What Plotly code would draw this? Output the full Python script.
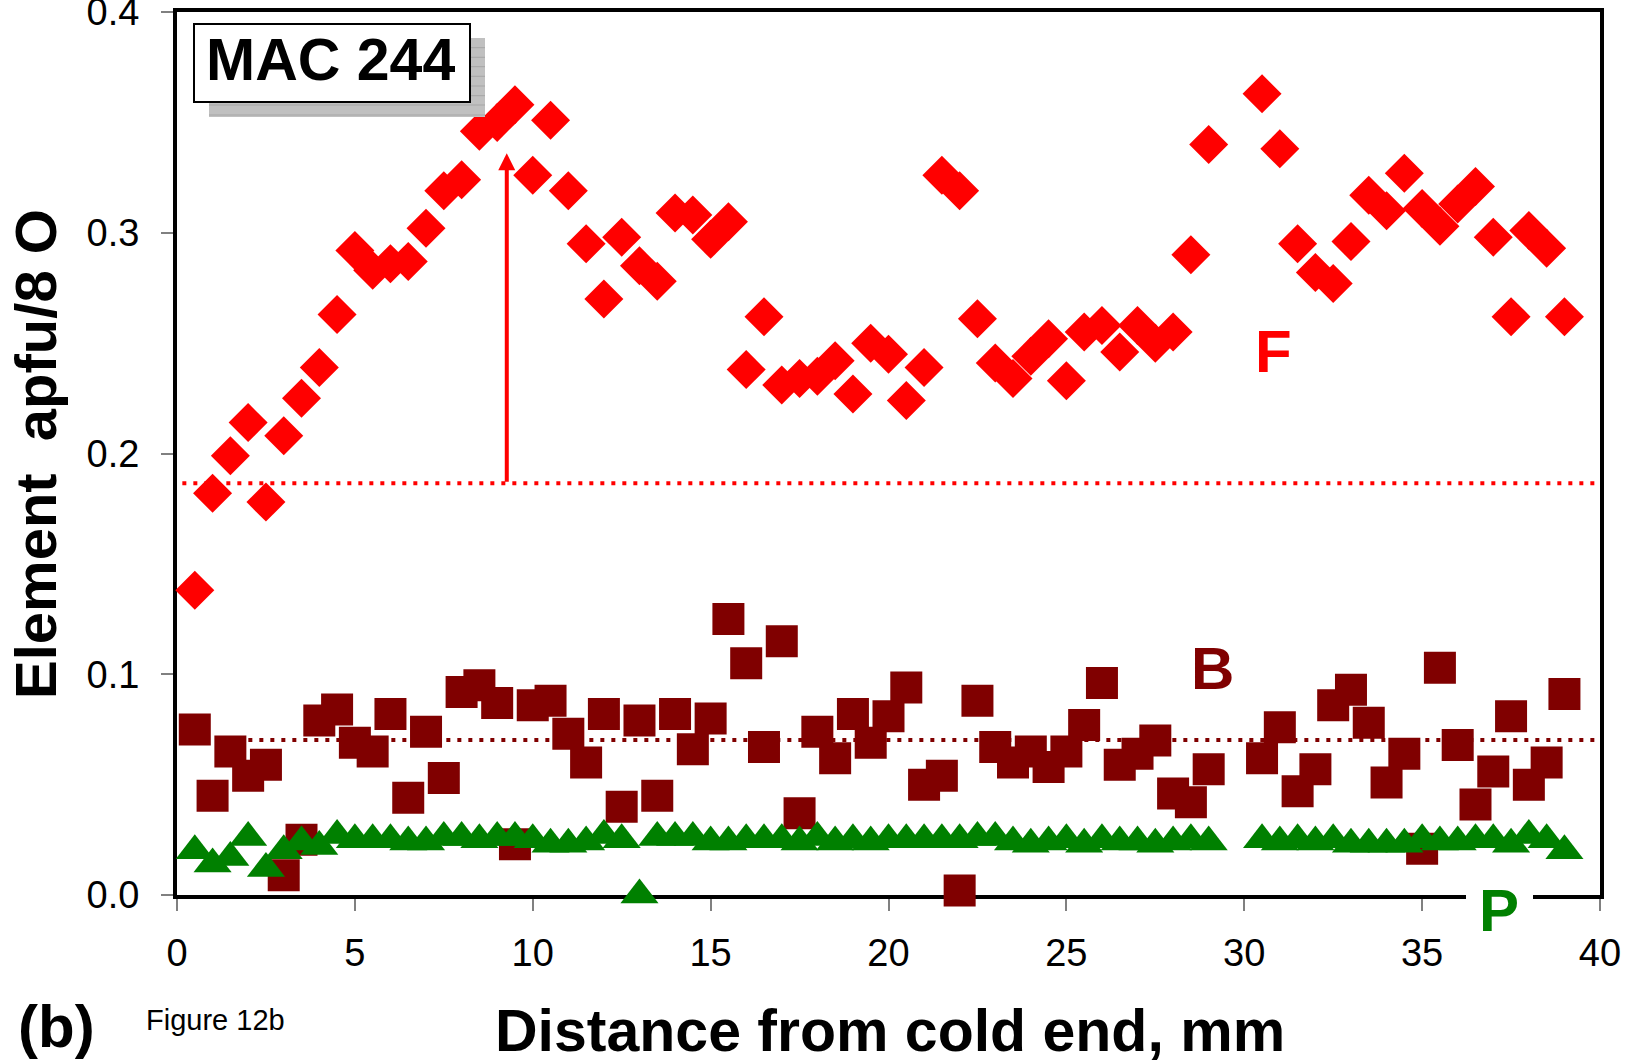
import plotly.graph_objects as go

# Distance along the charge (mm); no analyses at 29.5 and 30.0 mm
distance_mm = [
    0.5, 1.0, 1.5, 2.0, 2.5, 3.0, 3.5, 4.0, 4.5, 5.0,
    5.5, 6.0, 6.5, 7.0, 7.5, 8.0, 8.5, 9.0, 9.5, 10.0,
    10.5, 11.0, 11.5, 12.0, 12.5, 13.0, 13.5, 14.0, 14.5, 15.0,
    15.5, 16.0, 16.5, 17.0, 17.5, 18.0, 18.5, 19.0, 19.5, 20.0,
    20.5, 21.0, 21.5, 22.0, 22.5, 23.0, 23.5, 24.0, 24.5, 25.0,
    25.5, 26.0, 26.5, 27.0, 27.5, 28.0, 28.5, 29.0,
    30.5, 31.0, 31.5, 32.0, 32.5, 33.0, 33.5, 34.0, 34.5, 35.0,
    35.5, 36.0, 36.5, 37.0, 37.5, 38.0, 38.5, 39.0,
]

# Fluorine, apfu per 8 O
f_apfu = [
    0.138, 0.182, 0.199, 0.214, 0.178, 0.208, 0.225, 0.239, 0.263, 0.292,
    0.283, 0.286, 0.287, 0.302, 0.319, 0.324, 0.346, 0.350, 0.358, 0.326,
    0.351, 0.319, 0.295, 0.270, 0.298, 0.285, 0.278, 0.309, 0.308, 0.297,
    0.305, 0.238, 0.262, 0.231, 0.234, 0.235, 0.242, 0.227, 0.250, 0.245,
    0.224, 0.239, 0.326, 0.319, 0.261, 0.241, 0.234, 0.244, 0.252, 0.233,
    0.255, 0.258, 0.246, 0.258, 0.250, 0.255, 0.290, 0.340,
    0.363, 0.338, 0.295, 0.282, 0.277, 0.296, 0.317, 0.310, 0.327, 0.311,
    0.303, 0.313, 0.321, 0.298, 0.262, 0.301, 0.293, 0.262,
]

# Boron, apfu per 8 O
b_apfu = [
    0.075, 0.045, 0.065, 0.054, 0.059, 0.009, 0.025, 0.079, 0.084, 0.069,
    0.065, 0.082, 0.044, 0.074, 0.053, 0.092, 0.095, 0.087, 0.023, 0.086,
    0.088, 0.073, 0.060, 0.082, 0.040, 0.079, 0.045, 0.082, 0.066, 0.080,
    0.125, 0.105, 0.067, 0.115, 0.037, 0.074, 0.062, 0.082, 0.069, 0.081,
    0.094, 0.050, 0.054, 0.002, 0.088, 0.067, 0.060, 0.065, 0.058, 0.065,
    0.077, 0.096, 0.059, 0.064, 0.070, 0.046, 0.042, 0.057,
    0.062, 0.076, 0.047, 0.057, 0.086, 0.093, 0.078, 0.051, 0.064, 0.021,
    0.103, 0.068, 0.041, 0.056, 0.081, 0.050, 0.060, 0.091,
]

# Phosphorus, apfu per 8 O
p_apfu = [
    0.020, 0.014, 0.017, 0.026, 0.012, 0.020, 0.024, 0.022, 0.027, 0.025,
    0.025, 0.025, 0.024, 0.024, 0.026, 0.026, 0.025, 0.026, 0.026, 0.025,
    0.023, 0.023, 0.024, 0.027, 0.025, 0.000, 0.026, 0.026, 0.026, 0.024,
    0.024, 0.025, 0.025, 0.025, 0.024, 0.026, 0.024, 0.025, 0.024, 0.025,
    0.025, 0.025, 0.025, 0.025, 0.026, 0.026, 0.024, 0.023, 0.024, 0.025,
    0.023, 0.025, 0.024, 0.024, 0.023, 0.024, 0.025, 0.024,
    0.025, 0.024, 0.025, 0.024, 0.025, 0.023, 0.023, 0.023, 0.023, 0.025,
    0.024, 0.024, 0.025, 0.025, 0.023, 0.027, 0.025, 0.020,
]

# Starting-glass levels (dotted reference lines) and the enrichment arrow
f_initial = 0.1865
b_initial = 0.0702
arrow_x = 9.27
arrow_top = 0.336

x_range = [0, 40]
y_range = [0, 0.4]
x_ticks = [0, 5, 10, 15, 20, 25, 30, 35, 40]
y_ticks = [0.0, 0.1, 0.2, 0.3, 0.4]

RED = "#ff0000"
MAROON = "#800000"
GREEN = "#008000"
FONT = "Liberation Sans, Arial, sans-serif"

W, H = 1625, 1063
ML, MR, MT, MB = 177, 25, 12, 168
PW, PH = W - ML - MR, H - MT - MB


def px(xpix):
    """Page x pixel -> paper coordinate."""
    return (xpix - ML) / PW


def py(ypix):
    """Page y pixel -> paper coordinate."""
    return (H - MB - ypix) / PH


fig = go.Figure()

# dotted initial-composition lines
fig.add_trace(go.Scatter(
    x=[0.15, x_range[1]], y=[f_initial, f_initial], mode="lines",
    line=dict(color=RED, width=4, dash="4px,7px"), hoverinfo="skip",
    showlegend=False,
))
fig.add_trace(go.Scatter(
    x=[0.15, x_range[1]], y=[b_initial, b_initial], mode="lines",
    line=dict(color=MAROON, width=4, dash="4px,7px"), hoverinfo="skip",
    showlegend=False,
))

fig.add_trace(go.Scatter(
    x=distance_mm, y=f_apfu, mode="markers", name="F",
    marker=dict(symbol="diamond", size=30, color=RED, line=dict(width=0)),
    cliponaxis=False, showlegend=False,
))
fig.add_trace(go.Scatter(
    x=distance_mm, y=b_apfu, mode="markers", name="B",
    marker=dict(symbol="square", size=32, color=MAROON, line=dict(width=0)),
    cliponaxis=False, showlegend=False,
))
fig.add_trace(go.Scatter(
    x=distance_mm, y=p_apfu, mode="markers", name="P",
    marker=dict(symbol="triangle-up", size=33, color=GREEN, line=dict(width=0)),
    cliponaxis=False, showlegend=False,
))

axis_common = dict(
    showline=True, linewidth=4, linecolor="black", mirror=True,
    ticks="outside", ticklen=12, tickwidth=1.5, tickcolor="#808080",
    showgrid=False, zeroline=False, layer="below traces",
    ticklabeloverflow="allow", automargin=False,
    tickfont=dict(family=FONT, size=38, color="black"),
)

fig.update_xaxes(range=x_range, tickvals=x_ticks, ticklabelstandoff=9,
                 **axis_common)
fig.update_yaxes(range=y_range, tickvals=y_ticks, tickformat=".1f",
                 ticklabelstandoff=14, **axis_common)

# panel tag box with hatched grey drop shadow
hatch = " ".join(
    f"M{px(209)},{py(y)} L{px(485)},{py(y)}"
    for y in [47.7, 57.3, 66.7, 76.3, 86, 95.7, 105, 115]
)
shapes = [
    dict(type="rect", xref="paper", yref="paper",
         x0=px(209), x1=px(485), y0=py(117), y1=py(38),
         fillcolor="#c0c0c0", line=dict(width=0), layer="above"),
    dict(type="path", xref="paper", yref="paper", path=hatch,
         line=dict(color="#a6a6a6", width=1), layer="above"),
    dict(type="rect", xref="paper", yref="paper",
         x0=px(194), x1=px(470), y0=py(102), y1=py(24),
         fillcolor="white", line=dict(color="black", width=2), layer="above"),
    # white backing behind the P label, breaking the x-axis line
    dict(type="rect", xref="paper", yref="paper",
         x0=px(1466), x1=px(1533), y0=py(901), y1=py(888),
         fillcolor="white", line=dict(width=0), layer="above"),
]

annotations = [
    dict(text="<b>MAC 244</b>", x=px(330), y=py(60), xref="paper", yref="paper",
         showarrow=False, xanchor="center", yanchor="middle",
         font=dict(family=FONT, size=59, color="black")),
    dict(text="<b>F</b>", x=px(1273), y=py(351), xref="paper", yref="paper",
         showarrow=False, xanchor="center", yanchor="middle",
         font=dict(family=FONT, size=60, color=RED)),
    dict(text="<b>B</b>", x=px(1212), y=py(668), xref="paper", yref="paper",
         showarrow=False, xanchor="center", yanchor="middle",
         font=dict(family=FONT, size=60, color=MAROON)),
    dict(text="<b>P</b>", x=px(1499), y=py(910), xref="paper", yref="paper",
         showarrow=False, xanchor="center", yanchor="middle",
         font=dict(family=FONT, size=60, color=GREEN)),
    # arrow: enrichment of F above the starting level
    dict(text="", x=arrow_x, y=arrow_top, xref="x", yref="y",
         ax=arrow_x, ay=f_initial, axref="x", ayref="y",
         showarrow=True, arrowhead=2, arrowsize=0.85, arrowwidth=4,
         arrowcolor=RED, standoff=0, startstandoff=0),
    dict(text="<b>Element\u00a0\u00a0apfu/8 O</b>", x=px(35), y=py(454),
         xref="paper", yref="paper", textangle=-90, showarrow=False,
         xanchor="center", yanchor="middle",
         font=dict(family=FONT, size=58, color="black")),
    dict(text="<b>Distance from cold end, mm</b>", x=px(890), y=py(1031),
         xref="paper", yref="paper", showarrow=False,
         xanchor="center", yanchor="middle",
         font=dict(family=FONT, size=59, color="black")),
    dict(text="<b>(b)</b>", x=px(56), y=py(1026), xref="paper", yref="paper",
         showarrow=False, xanchor="center", yanchor="middle",
         font=dict(family=FONT, size=60, color="black")),
    dict(text="Figure 12b", x=px(215), y=py(1020), xref="paper", yref="paper",
         showarrow=False, xanchor="center", yanchor="middle",
         font=dict(family=FONT, size=29, color="black")),
]

fig.update_layout(
    width=W, height=H,
    margin=dict(l=ML, r=MR, t=MT, b=MB),
    paper_bgcolor="white", plot_bgcolor="white",
    shapes=shapes, annotations=annotations,
    showlegend=False,
    font=dict(family=FONT, color="black"),
)

fig.write_html("out.html")
